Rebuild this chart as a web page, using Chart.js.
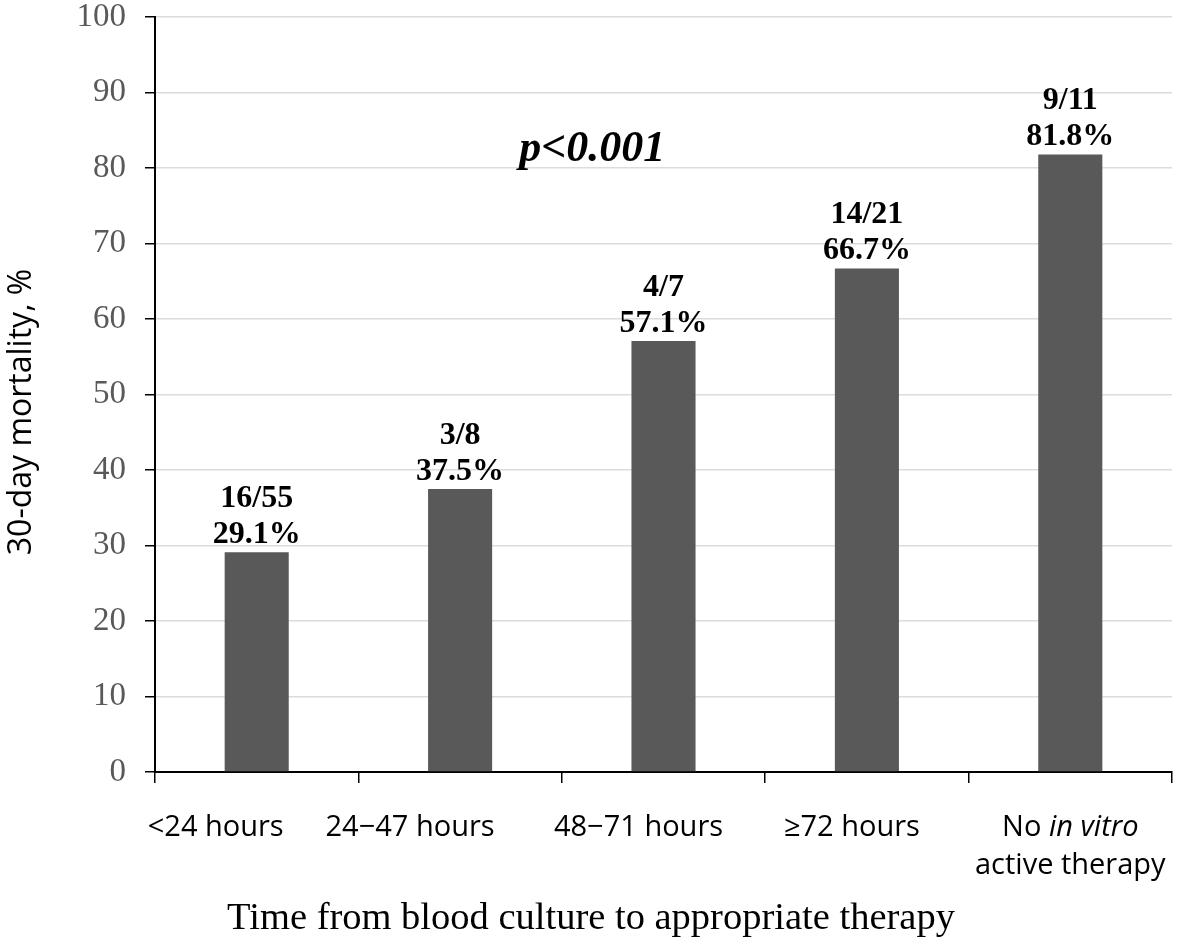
<!DOCTYPE html>
<html>
<head>
<meta charset="utf-8">
<script src="https://cdn.jsdelivr.net/npm/chart.js@4"></script>
<style>
  body { margin: 0; background: #fff; }
  #wrap { width: 1181px; height: 948px; }
</style>
</head>
<body>
<div id="wrap"><canvas id="mortality"></canvas></div>
<script>
const categories = ['<24 hours', '24\u221247 hours', '48\u221271 hours', '\u226572 hours', 'No in vitro active therapy'];
const mortality = [29.1, 37.5, 57.1, 66.7, 81.8];
const counts = ['16/55', '3/8', '4/7', '14/21', '9/11'];
const yTicks = [0, 10, 20, 30, 40, 50, 60, 70, 80, 90, 100];

// labels in the original sit a bit left of their bars
const labelShift = [-41, -50, -25, -15, 0];

const overlay = {
  id: 'overlay',
  afterDraw(chart) {
    const ctx = chart.ctx;
    const x = chart.scales.x, y = chart.scales.y;
    const meta = chart.getDatasetMeta(0);
    ctx.save();
    ctx.fillStyle = '#000';
    ctx.textAlign = 'center';

    // value labels above bars
    ctx.font = 'bold 32px "Liberation Serif"';
    ctx.textBaseline = 'alphabetic';
    meta.data.forEach((bar, i) => {
      ctx.fillText(counts[i], bar.x, bar.y - 45);
      ctx.fillText(mortality[i].toFixed(1) + '%', bar.x, bar.y - 9);
    });

    // p value
    ctx.font = 'italic bold 44px "Liberation Serif"';
    ctx.fillText('p<0.001', x.getPixelForValue(1.65), y.getPixelForValue(80.9));

    // category labels
    const f = '29px "Open Sans"', fi = 'italic 29px "Open Sans"';
    ctx.font = f;
    ctx.textBaseline = 'middle';
    categories.forEach((c, i) => {
      const cx = x.getPixelForValue(i) + labelShift[i];
      if (c.startsWith('No in vitro')) {
        const a = 'No ', b = 'in vitro';
        ctx.font = f;
        const wa = ctx.measureText(a).width;
        ctx.font = fi;
        const wb = ctx.measureText(b).width;
        const start = cx - (wa + wb) / 2;
        ctx.textAlign = 'left';
        ctx.font = f;
        ctx.fillText(a, start, 828);
        ctx.font = fi;
        ctx.fillText(b, start + wa, 828);
        ctx.textAlign = 'center';
        ctx.font = f;
        ctx.fillText('active therapy', cx, 866);
      } else {
        ctx.fillText(c, cx, 828);
      }
    });

    // axis titles
    ctx.font = '38.5px "Liberation Serif"';
    ctx.fillText('Time from blood culture to appropriate therapy', 591, 919);

    ctx.translate(22, 412);
    ctx.rotate(-Math.PI / 2);
    ctx.font = '32px "Open Sans"';
    ctx.fillText('30-day mortality, %', 0, 0);
    ctx.restore();
  }
};

new Chart(document.getElementById('mortality'), {
  type: 'bar',
  data: {
    labels: categories,
    datasets: [{
      data: mortality,
      backgroundColor: '#595959',
      barPercentage: 0.315,
      categoryPercentage: 1
    }]
  },
  options: {
    responsive: true,
    maintainAspectRatio: false,
    animation: false,
    layout: { padding: { top: 17, right: 9, left: 0, bottom: 0 } },
    plugins: { legend: { display: false }, tooltip: { enabled: false } },
    scales: {
      x: {
        offset: true,
        grid: { display: true, drawOnChartArea: false, offset: true, color: '#000', tickLength: 11, lineWidth: 1.5 },
        border: { color: '#000', width: 2 },
        ticks: { display: false },
        afterFit(s) { s.height = 176; }
      },
      y: {
        min: 0,
        max: 100,
        afterBuildTicks(s) { s.ticks = yTicks.map(v => ({ value: v })); },
        grid: { color: '#dcdcdc', lineWidth: 1.5, tickColor: '#000', tickLength: 10 },
        border: { color: '#000', width: 2 },
        ticks: {
          color: '#595959',
          padding: 19,
          font: { family: '"Liberation Serif"', size: 33, lineHeight: 1 }
        },
        afterFit(s) {
          s.width = 155;
          s.paddingTop = 0;
          s.paddingBottom = 0;
        }
      }
    }
  },
  plugins: [overlay]
});
</script>
</body>
</html>
